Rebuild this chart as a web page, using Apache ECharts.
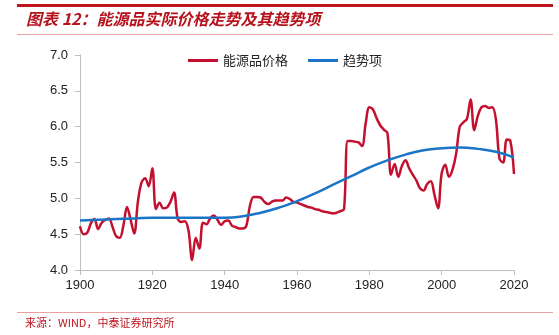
<!DOCTYPE html>
<html>
<head>
<meta charset="utf-8">
<script src="https://cdn.jsdelivr.net/npm/echarts@6/dist/echarts.min.js"></script>
<style>
html,body{margin:0;padding:0;background:#fff;}
#c{width:559px;height:335px;}
</style>
</head>
<body>
<div id="c"></div>
<script>
// ---- data ----
const startYear = 1900;
const priceValues = [
 4.61,4.50,4.52,4.65,4.71,4.57,4.66,4.70,4.72,4.60,
 4.47,4.45,4.62,4.88,4.70,4.51,4.95,5.22,5.28,5.17,
 5.42,4.85,4.94,4.86,4.87,4.95,5.08,4.72,4.67,4.68,
 4.55,4.14,4.45,4.30,4.66,4.64,4.72,4.76,4.70,4.63,
 4.68,4.69,4.62,4.60,4.58,4.58,4.62,4.90,5.02,5.02,
 5.01,4.95,4.92,4.95,4.97,4.97,4.97,5.01,4.99,4.95,
 4.94,4.92,4.90,4.88,4.87,4.85,4.84,4.82,4.81,4.80,
 4.79,4.80,4.82,4.85,5.80,5.80,5.79,5.78,5.73,6.05,
 6.27,6.24,6.12,6.02,5.96,5.91,5.33,5.48,5.30,5.45,
 5.53,5.42,5.33,5.25,5.14,5.11,5.20,5.24,5.05,4.86,
 5.35,5.47,5.30,5.40,5.62,6.00,6.06,6.11,6.38,5.95,
 6.15,6.27,6.29,6.26,6.27,6.10,5.55,5.50,5.82,5.80,
 5.34
];
const trendYears = [1900,1905,1910,1915,1920,1925,1930,1935,1940,1945,1950,1955,1960,1965,1970,1975,1980,1985,1990,1995,2000,2005,2010,2015,2020];
const trendValues = [4.69,4.70,4.71,4.72,4.73,4.73,4.73,4.73,4.73,4.75,4.80,4.87,4.96,5.07,5.19,5.31,5.43,5.53,5.61,5.67,5.70,5.71,5.69,5.65,5.57];
const seriesNames = ['能源品价格','趋势项'];
const titleText = '图表 12：能源品实际价格走势及其趋势项';
const sourceText = '来源：WIND，中泰证券研究所';

const priceData = priceValues.map((v,i)=>[startYear+i, v]);
const trendData = trendYears.map((y,i)=>[y, trendValues[i]]);

const chart = echarts.init(document.getElementById('c'), null, {renderer:'canvas'});
const axisFont = {fontFamily:'Liberation Sans, Arial, sans-serif', fontSize:13, color:'#222'};
chart.setOption({
  animation:false,
  backgroundColor:'#fff',
  graphic:[
    {type:'rect', shape:{x:17,y:4,width:536,height:3}, style:{fill:'#C0141E'}},
    {type:'text', left:26, top:11, style:{text:titleText, font:'italic bold 16px "Noto Sans CJK SC", sans-serif', fill:'#B5121B'}},
    {type:'rect', shape:{x:17,y:34,width:536,height:1}, style:{fill:'#E8A0A0'}},
    {type:'rect', shape:{x:17,y:312,width:536,height:1}, style:{fill:'#E8A0A0'}},
    {type:'text', left:25, top:317, style:{text:sourceText, font:'11px "Noto Sans CJK SC", monospace', fill:'#C0141E'}}
  ],
  legend:{
    left:183, top:49, itemGap:20, itemWidth:30, itemHeight:3, icon:'rect',
    textStyle:{fontFamily:'"Noto Sans CJK SC", sans-serif', fontSize:13, color:'#222'},
    data:seriesNames
  },
  grid:{left:80, right:45, top:55, bottom:65},
  xAxis:{
    type:'value', min:1900, max:2020, interval:20,
    axisLine:{lineStyle:{color:'#BFBFBF', width:1}},
    axisTick:{show:true, length:5, lineStyle:{color:'#BFBFBF'}},
    axisLabel:Object.assign({margin:9, formatter:v=>String(v)}, axisFont),
    splitLine:{show:false}
  },
  yAxis:{
    type:'value', min:4, max:7, interval:0.5,
    axisLine:{show:true, lineStyle:{color:'#BFBFBF', width:1}},
    axisTick:{show:true, length:5, lineStyle:{color:'#BFBFBF'}},
    axisLabel:Object.assign({margin:12, formatter:v=>v.toFixed(1)}, axisFont),
    splitLine:{show:false}
  },
  series:[
    {name:seriesNames[0], type:'line', data:priceData, smooth:0.35, showSymbol:false, symbol:'none',
     lineStyle:{color:'#C4102F', width:2.5}, itemStyle:{color:'#C4102F'}},
    {name:seriesNames[1], type:'line', data:trendData, smooth:0.5, showSymbol:false, symbol:'none',
     lineStyle:{color:'#1B75C6', width:2.5}, itemStyle:{color:'#1B75C6'}}
  ]
});
</script>
</body>
</html>
